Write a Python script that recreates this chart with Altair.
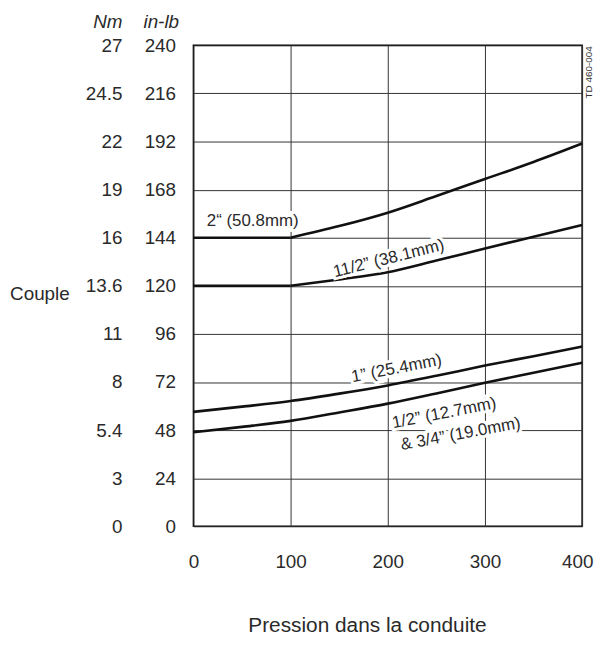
import altair as alt
import pandas as pd

FONT = "Liberation Sans"
TXT = "#2a2a2a"

# ---- data ----
pressure_large = [0, 100, 150, 200, 250, 300, 350, 400]
torque_2in = [144, 144, 149.8, 156.5, 164.8, 173.3, 181.8, 191.0]
torque_1_5in = [120, 120, 123.2, 126.8, 132.6, 138.6, 144.5, 150.4]

pressure_small = [0, 50, 100, 150, 200, 250, 300, 350, 400]
torque_1in = [57.1, 59.7, 62.5, 66.2, 70.3, 75.1, 80.2, 84.9, 89.7]
torque_half = [46.9, 49.6, 52.6, 56.8, 61.2, 66.3, 71.6, 76.6, 81.6]

x_ticks = [0, 100, 200, 300, 400]
y_ticks_inlb = [0, 24, 48, 72, 96, 120, 144, 168, 192, 216, 240]
y_labels_nm = ["0", "3", "5.4", "8", "11", "13.6", "16", "19", "22", "24.5", "27"]

label_texts = ["2\u201c (50.8mm)", "11/2\u201d (38.1mm)", "1\u201d (25.4mm)",
               "1/2\u201d (12.7mm)", "& 3/4\u201d (19.0mm)"]
label_x = [61, 201, 209, 258, 275]
label_y = [152.5, 133.6, 78.7, 56.4, 46.0]
label_angle = [0, 346, 349, 349, 349.5]

# ---- build tables ----
rows = []
def add(series, xs, ys, flat_until=None):
    for x, y in zip(xs, ys):
        if flat_until is not None:
            if x <= flat_until:
                rows.append({"series": series, "seg": "flat", "p": x, "t": y})
            if x >= flat_until:
                rows.append({"series": series, "seg": "curve", "p": x, "t": y})
        else:
            rows.append({"series": series, "seg": "curve", "p": x, "t": y})

add("2in", pressure_large, torque_2in, flat_until=100)
add("1.5in", pressure_large, torque_1_5in, flat_until=100)
add("1in", pressure_small, torque_1in)
add("half", pressure_small, torque_half)
curves = pd.DataFrame(rows)
curves["key"] = curves["series"] + "_" + curves["seg"]

labels = pd.DataFrame({"text": label_texts, "x": label_x, "y": label_y, "angle": label_angle})

x_scale = alt.Scale(domain=[0, 400], nice=False)
y_scale = alt.Scale(domain=[0, 240], nice=False)

nm_expr = "[" + ",".join(f"'{s}'" for s in y_labels_nm) + "][round(datum.value/24)]"

lines = alt.Chart(curves).mark_line(color="#111", strokeWidth=2.6, interpolate="monotone").encode(
    x=alt.X("p:Q", scale=x_scale, axis=alt.Axis(
        orient="bottom", values=x_ticks, grid=True, gridColor="#333", gridWidth=1, domain=False,
        ticks=False, labelPadding=27, labelFontSize=19, labelFlush=False, labelColor=TXT,
        labelOffset={"condition": {"test": "datum.value == 400", "value": -5}, "value": 0},
        title="Pression dans la conduite", titleFontSize=21, titleFontWeight="normal",
        titleX=175, titleY=106, titleAlign="center", titleBaseline="alphabetic", titleColor=TXT)),
    y=alt.Y("t:Q", scale=y_scale, axis=alt.Axis(
        orient="left", values=y_ticks_inlb, grid=True, gridColor="#333", gridWidth=1,
        domain=False, ticks=False, labelPadding=18, labelFontSize=19, labelBaseline="middle",
        labelColor=TXT, labelFlush=False,
        title="in-lb", titleAngle=0, titleAlign="right", titleBaseline="alphabetic",
        titleX=-15, titleY=-18, titleFontStyle="italic", titleFontSize=19,
        titleFontWeight="normal", titleColor=TXT)),
    detail="key:N",
)

halo = alt.Chart(labels).mark_text(fontSize=17, font=FONT, color="white", stroke="white",
                                   strokeWidth=6, align="center", baseline="middle").encode(
    x=alt.X("x:Q", scale=x_scale, axis=None),
    y=alt.Y("y:Q", scale=y_scale, axis=None),
    text="text:N",
    angle=alt.Angle("angle:Q", scale=None),
)

texts = alt.Chart(labels).mark_text(fontSize=17, font=FONT, color=TXT,
                                    align="center", baseline="middle").encode(
    x=alt.X("x:Q", scale=x_scale, axis=None),
    y=alt.Y("y:Q", scale=y_scale, axis=None),
    text="text:N",
    angle=alt.Angle("angle:Q", scale=None),
)

couple = alt.Chart(pd.DataFrame({"x": [-158], "y": [116], "text": ["Couple"]})).mark_text(
    fontSize=19, font=FONT, color=TXT, align="center", baseline="middle").encode(
    x=alt.X("x:Q", scale=x_scale, axis=None),
    y=alt.Y("y:Q", scale=y_scale, axis=alt.Axis(
        orient="left", offset=54, values=y_ticks_inlb, labelExpr=nm_expr, grid=False,
        domain=False, ticks=False, labelPadding=18, labelFontSize=19, labelBaseline="middle",
        labelColor=TXT, labelFlush=False,
        title="Nm", titleAngle=0, titleAlign="right", titleBaseline="alphabetic",
        titleX=-18, titleY=-18, titleFontStyle="italic", titleFontSize=19,
        titleFontWeight="normal", titleColor=TXT)),
    text="text:N",
)

td = alt.Chart(pd.DataFrame({"x": [407], "y": [226.5], "text": ["TD 460-004"]})).mark_text(
    fontSize=10, font=FONT, color="#333", angle=270, align="center", baseline="middle").encode(
    x=alt.X("x:Q", scale=x_scale, axis=None),
    y=alt.Y("y:Q", scale=y_scale, axis=None),
    text="text:N",
)

chart = alt.layer(lines, halo, texts, couple, td).resolve_axis(
    x="independent", y="independent").properties(
    width=392, height=485,
    autosize=alt.AutoSizeParams(type="none"),
    padding={"left": 187, "top": 35, "right": 14, "bottom": 110},
).configure_axis(labelFont=FONT, titleFont=FONT).configure_view(stroke="black", strokeWidth=1.5)

chart.save("out.html", embed_options={"renderer": "svg", "actions": False})
